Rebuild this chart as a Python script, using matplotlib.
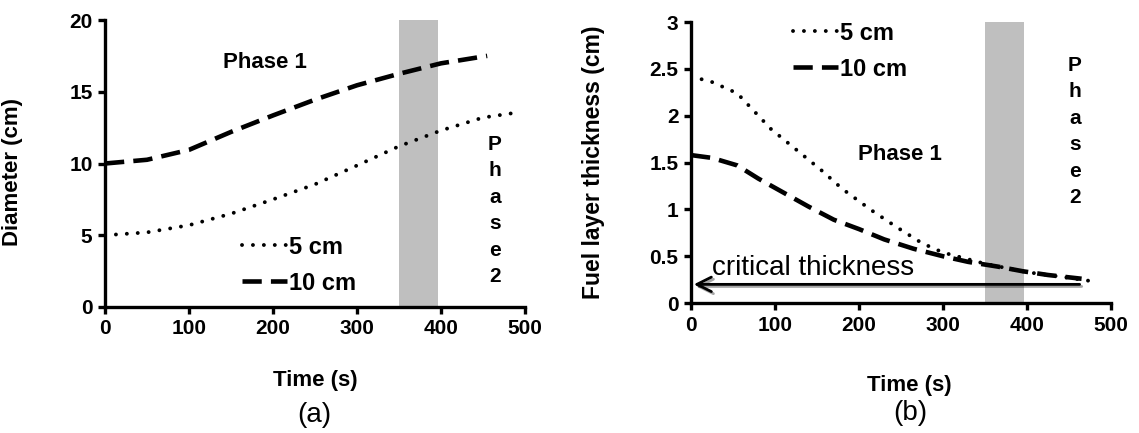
import numpy as np
import matplotlib
matplotlib.use("Agg")
import matplotlib.pyplot as plt
from matplotlib.ticker import FormatStrFormatter
import matplotlib.patheffects as pe

plt.rcParams['font.family'] = ['Liberation Sans', 'DejaVu Sans']

# (a) particle diameter vs time
t_a5 = [0, 50, 100, 150, 200, 250, 300, 350, 400, 450, 487]
d_a5 = [5.0, 5.2, 5.7, 6.5, 7.5, 8.55, 9.86, 11.2, 12.3, 13.2, 13.52]
t_a10 = [0, 50, 100, 150, 200, 250, 300, 350, 400, 455]
d_a10 = [10.0, 10.26, 10.95, 12.2, 13.35, 14.45, 15.45, 16.25, 16.98, 17.5]

# (b) fuel layer thickness vs time
t_b5 = [0, 25, 55, 75, 95, 125, 155, 180, 215, 245, 275, 300, 350, 400, 450, 480]
th_b5 = [2.42, 2.36, 2.24, 2.05, 1.86, 1.64, 1.42, 1.22, 0.99, 0.81, 0.64, 0.54, 0.42, 0.33, 0.27, 0.23]
t_b10 = [0, 25, 55, 80, 110, 140, 170, 200, 230, 265, 300, 330, 365, 395, 425, 465]
th_b10 = [1.58, 1.55, 1.47, 1.33, 1.18, 1.03, 0.89, 0.79, 0.68, 0.58, 0.50, 0.44, 0.39, 0.34, 0.30, 0.26]

critical = 0.2
crit_end = 466
phase2_band = (350, 397)
labels = ['5 cm', '10 cm']

dot_kw = dict(color='black', lw=2.8, linestyle=(0, (0.01, 2.8)), dash_capstyle='round')
dash_kw = dict(color='black', lw=3.3, linestyle=(0, (4.2, 2.0)))

fig = plt.figure(figsize=(11.39, 4.33), dpi=100)
ax1 = fig.add_axes([0.0922, 0.291, 0.3687, 0.6628])
ax2 = fig.add_axes([0.6067, 0.300, 0.3687, 0.649])


def style_axes(ax):
    for s in ['top', 'right']:
        ax.spines[s].set_visible(False)
    for s in ['left', 'bottom']:
        ax.spines[s].set_linewidth(2.4)
    ax.tick_params(direction='out', length=5, width=2.4, pad=4)
    ax.set_xlim(0, 500)
    ax.set_xticks([0, 100, 200, 300, 400, 500])
    for lab in ax.get_xticklabels() + ax.get_yticklabels():
        lab.set_fontsize(15)
        lab.set_fontweight('bold')
    ax.axvspan(*phase2_band, color='#bfbfbf', zorder=0, lw=0)


# --- panel (a)
ax1.plot(t_a5, d_a5, label=labels[0], **dot_kw)
ax1.plot(t_a10, d_a10, label=labels[1], **dash_kw)
ax1.set_ylim(0, 20)
ax1.set_yticks([0, 5, 10, 15, 20])
style_axes(ax1)
ax1.set_ylabel('Diameter (cm)', fontsize=16, fontweight='bold')
ax1.yaxis.set_label_coords(-0.195, 0.47)
ax1.set_xlabel('Time (s)', fontsize=16, fontweight='bold')
ax1.xaxis.set_label_coords(0.5, -0.22)
ax1.text(190, 17.05, 'Phase 1', ha='center', va='center', fontsize=16, fontweight='bold')
ax1.text(464, 6.72, '\n'.join('Phase2'), ha='center', va='center',
         fontsize=15, fontweight='bold', linespacing=1.5)
ax1.legend(loc='center left', bbox_to_anchor=(0.326, 0.146), frameon=False,
           prop=dict(size=17, weight='bold'), handlelength=1.9, handletextpad=0.1,
           labelspacing=0.55, borderpad=0, borderaxespad=0)

# --- panel (b)
ax2.plot(t_b5, th_b5, label=labels[0], **dot_kw)
ax2.plot(t_b10, th_b10, label=labels[1], **dash_kw)
ax2.set_ylim(0, 3)
ax2.set_yticks([0, 0.5, 1, 1.5, 2, 2.5, 3])
ax2.yaxis.set_major_formatter(FormatStrFormatter('%g'))
style_axes(ax2)
ax2.set_ylabel('Fuel layer thickness (cm)', fontsize=16.5, fontweight='bold')
ax2.yaxis.set_label_coords(-0.205, 0.5)
ax2.set_xlabel('Time (s)', fontsize=16, fontweight='bold')
ax2.xaxis.set_label_coords(0.52, -0.256)
ax2.text(249, 1.59, 'Phase 1', ha='center', va='center', fontsize=16, fontweight='bold')
ax2.text(457, 1.83, '\n'.join('Phase2'), ha='center', va='center',
         fontsize=15, fontweight='bold', linespacing=1.5)
ax2.annotate('', xy=(0, critical), xytext=(crit_end, critical),
             arrowprops=dict(arrowstyle='->', lw=2, color='black', mutation_scale=26,
                             path_effects=[pe.SimpleLineShadow(offset=(1.5, -1.5), alpha=0.35),
                                           pe.Normal()]))
ax2.text(25, 0.37, 'critical thickness', ha='left', va='center', fontsize=20)
ax2.legend(loc='center left', bbox_to_anchor=(0.243, 0.897), frameon=False,
           prop=dict(size=17, weight='bold'), handlelength=1.9, handletextpad=0.1,
           labelspacing=0.55, borderpad=0, borderaxespad=0)

fig.text(314 / 1139, 1 - 415 / 433, '(a)', ha='center', va='center', fontsize=20)
fig.text(910 / 1139, 1 - 413 / 433, '(b)', ha='center', va='center', fontsize=20)

fig.savefig('out.png', dpi=100)
